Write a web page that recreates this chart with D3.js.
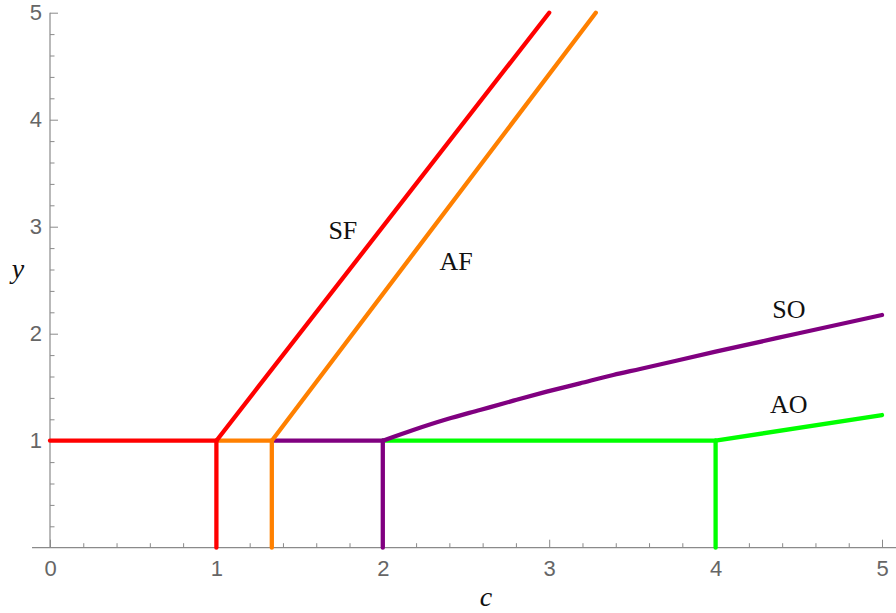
<!DOCTYPE html>
<html>
<head>
<meta charset="utf-8">
<script src="https://cdn.jsdelivr.net/npm/d3@7"></script>
<style>
  body { margin: 0; background: #fff; }
  svg { display: block; }
</style>
</head>
<body>
<svg id="js-svg" width="896" height="613"></svg>
<script>
// series: flat part at y = 1, drop to the axis, then the rising branch
const seriesNames = ["AO", "SO", "AF", "SF"];
const seriesColors = ["#00ff00", "#800080", "#ff8000", "#ff0000"];

const aoFlatC = [2, 4];
const aoDropC = 4;
const aoRiseC = [4, 5];
const aoRiseY = [1, 1.24];

const soFlatC = [1.333, 2];
const soDropC = 2;
const soRiseC = [2, 2.183, 2.384, 2.584, 2.785, 2.985, 3.185, 3.385, 3.546, 4, 4.5, 5];
const soRiseY = [1, 1.1, 1.2, 1.287, 1.374, 1.458, 1.536, 1.614, 1.67, 1.832, 2.004, 2.175];

const afFlatC = [1, 1.333];
const afDropC = 1.333;
const afRiseC = [1.333, 3.28];
const afRiseY = [1, 5];

const sfFlatC = [0, 1];
const sfDropC = 1;
const sfRiseC = [1, 3.0];
const sfRiseY = [1, 5];

const flatY = 1;

// where each name sits (data coords, baseline)
const labelC = [4.44, 4.44, 2.44, 1.76];
const labelY = [1.26, 2.15, 2.6, 2.885];

const xTicks = [0, 1, 2, 3, 4, 5];
const yTicks = [1, 2, 3, 4, 5];

const width = 896;
const height = 613;

const x = d3.scaleLinear().domain([0, 5]).range([50, 882]);
const y = d3.scaleLinear().domain([0, 5]).range([547.7, 12.7]);

const svg = d3.select("#js-svg");
svg.append("rect").attr("width", width).attr("height", height).attr("fill", "white");

const minor = (lo, hi) => d3.range(lo * 5, hi * 5 + 1).map((v) => v / 5).filter((v) => v % 1 !== 0);
const tickFont = "22px 'Liberation Sans', Arial, sans-serif";

// x axis
const xAxisG = svg.append("g").attr("transform", `translate(0, ${y(0)})`);
xAxisG
  .append("line")
  .attr("x1", x(-0.108))
  .attr("x2", width)
  .attr("stroke", "#8a8a8a")
  .attr("stroke-width", 1.2);
xAxisG
  .append("g")
  .call(d3.axisBottom(x).tickValues(minor(0, 5)).tickSize(-4.5).tickFormat(""))
  .call((g) => g.select(".domain").remove())
  .call((g) => g.selectAll("line").attr("stroke", "#8a8a8a"));
xAxisG
  .append("g")
  .call(d3.axisBottom(x).tickValues(xTicks).tickSize(-8).tickPadding(13).tickFormat(d3.format("d")))
  .call((g) => g.select(".domain").remove())
  .call((g) => g.selectAll("line").attr("stroke", "#8a8a8a"))
  .call((g) => g.selectAll("text").attr("fill", "#666").style("font", tickFont));

// y axis
const yAxisG = svg.append("g").attr("transform", `translate(${x(0)}, 0)`);
yAxisG
  .append("line")
  .attr("y1", y(0))
  .attr("y2", y(5))
  .attr("stroke", "#8a8a8a")
  .attr("stroke-width", 1.2);
yAxisG
  .append("g")
  .call(d3.axisLeft(y).tickValues(minor(0, 5)).tickSize(-4.5).tickFormat(""))
  .call((g) => g.select(".domain").remove())
  .call((g) => g.selectAll("line").attr("stroke", "#8a8a8a"));
yAxisG
  .append("g")
  .call(d3.axisLeft(y).tickValues(yTicks).tickSize(-8).tickPadding(8).tickFormat(d3.format("d")))
  .call((g) => g.select(".domain").remove())
  .call((g) => g.selectAll("line").attr("stroke", "#8a8a8a"))
  .call((g) => g.selectAll("text").attr("fill", "#666").style("font", tickFont));

// curves
const series = [
  { flat: aoFlatC, drop: aoDropC, riseC: aoRiseC, riseY: aoRiseY },
  { flat: soFlatC, drop: soDropC, riseC: soRiseC, riseY: soRiseY },
  { flat: afFlatC, drop: afDropC, riseC: afRiseC, riseY: afRiseY },
  { flat: sfFlatC, drop: sfDropC, riseC: sfRiseC, riseY: sfRiseY },
];

const straight = d3.line().x((d) => x(d[0])).y((d) => y(d[1]));
const smooth = d3.line().x((d) => x(d[0])).y((d) => y(d[1])).curve(d3.curveMonotoneX);

const curves = svg.append("g").attr("id", "curves");
series.forEach((s, i) => {
  const g = curves
    .append("g")
    .attr("fill", "none")
    .attr("stroke", seriesColors[i])
    .attr("stroke-width", 4.3)
    .attr("stroke-linejoin", "round")
    .attr("stroke-linecap", "round");
  g.append("path").attr("d", straight(s.flat.map((c) => [c, flatY])));
  g.append("path").attr("d", straight([[s.drop, flatY], [s.drop, 0]]));
  g.append("path").attr("d", smooth(s.riseC.map((c, j) => [c, s.riseY[j]])));
});

// curve names
svg
  .append("g")
  .selectAll("text")
  .data(seriesNames)
  .join("text")
  .attr("x", (d, i) => x(labelC[i]))
  .attr("y", (d, i) => y(labelY[i]))
  .attr("text-anchor", "middle")
  .style("font", "26px 'Liberation Serif', 'Times New Roman', serif")
  .attr("fill", "#111")
  .text((d) => d);

// axis titles
svg
  .append("text")
  .attr("x", 486)
  .attr("y", 606)
  .attr("text-anchor", "middle")
  .style("font", "italic 28px 'Liberation Serif', 'Times New Roman', serif")
  .attr("fill", "#111")
  .text("c");
svg
  .append("text")
  .attr("x", 18)
  .attr("y", 278)
  .attr("text-anchor", "middle")
  .style("font", "italic 28px 'Liberation Serif', 'Times New Roman', serif")
  .attr("fill", "#111")
  .text("y");
</script>
</body>
</html>
